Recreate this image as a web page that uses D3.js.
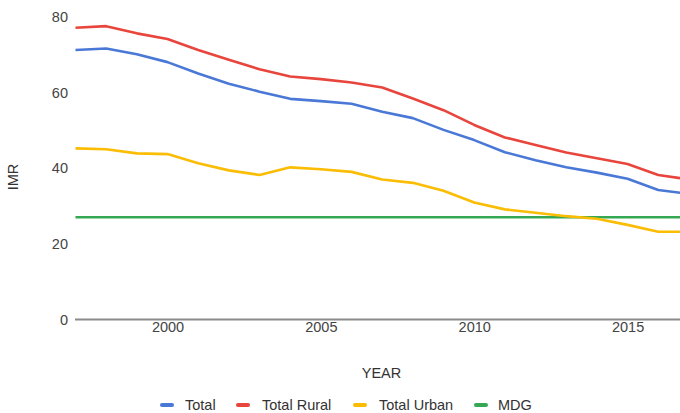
<!DOCTYPE html>
<html>
<head>
<meta charset="utf-8">
<script src="https://cdn.jsdelivr.net/npm/d3@7"></script>
<style>
  html, body { margin: 0; padding: 0; background: #fff; }
  svg { display: block; }
  text { font-family: "Liberation Sans", Arial, sans-serif; }
</style>
</head>
<body>
<svg id="chart" width="680" height="413"></svg>
<script>
// Infant mortality rate by year
const years = [1997, 1998, 1999, 2000, 2001, 2002, 2003, 2004, 2005, 2006, 2007,
               2008, 2009, 2010, 2011, 2012, 2013, 2014, 2015, 2016, 2017];
const total = [71.2, 71.6, 70.1, 68.0, 65.0, 62.3, 60.2, 58.3, 57.7, 57.0, 54.9,
               53.2, 50.1, 47.4, 44.2, 42.1, 40.2, 38.8, 37.2, 34.2, 33.2];
const totalRural = [77.1, 77.5, 75.6, 74.1, 71.2, 68.6, 66.1, 64.2, 63.5, 62.6, 61.3,
                    58.4, 55.3, 51.4, 48.1, 46.1, 44.1, 42.6, 41.1, 38.2, 37.0];
const totalUrban = [45.2, 45.0, 43.9, 43.7, 41.3, 39.4, 38.2, 40.2, 39.7, 39.0, 37.0,
                    36.1, 34.0, 30.9, 29.1, 28.2, 27.3, 26.6, 25.0, 23.2, 23.2];
const mdg = [27, 27, 27, 27, 27, 27, 27, 27, 27, 27, 27,
             27, 27, 27, 27, 27, 27, 27, 27, 27, 27];
const yTicks = [0, 20, 40, 60, 80];
const xTicks = [2000, 2005, 2010, 2015];

const seriesNames = ["Total", "Total Rural", "Total Urban", "MDG"];
const seriesValues = [total, totalRural, totalUrban, mdg];
const colors = ["#4a78d6", "#e8453c", "#fbbc04", "#34a853"];
const drawOrder = [3, 2, 0, 1];

const svg = d3.select("#chart");

const x = d3.scaleLinear().domain([1997, 2017]).range([75.5, 688.9]);
const y = d3.scaleLinear().domain([0, 80]).range([319.5, 16.7]);

// y-axis labels
const yAxis = d3.axisLeft(y).tickValues(yTicks).tickSize(0).tickPadding(0).tickFormat(d3.format("d"));
const gy = svg.append("g").attr("transform", "translate(68,0)").call(yAxis);
gy.select(".domain").remove();
gy.selectAll("text")
  .attr("fill", "#444")
  .style("font-size", "14.5px")
  .style("font-family", "'Liberation Sans', Arial, sans-serif");

// x-axis labels
const xAxis = d3.axisBottom(x).tickValues(xTicks).tickSize(0).tickPadding(0).tickFormat(d3.format("d"));
const gx = svg.append("g").attr("transform", "translate(0,322)").call(xAxis);
gx.select(".domain").remove();
gx.selectAll("text")
  .attr("fill", "#444")
  .attr("dy", "0.71em")
  .style("font-size", "14.5px")
  .style("font-family", "'Liberation Sans', Arial, sans-serif");

// baseline
svg.append("line")
  .attr("x1", 75).attr("x2", 680)
  .attr("y1", y(0)).attr("y2", y(0))
  .attr("stroke", "#8a8a8a").attr("stroke-width", 2);

// series lines
const line = d3.line()
  .x((d, i) => x(years[i]))
  .y(d => y(d));

drawOrder.forEach(k => {
  svg.append("path")
    .datum(seriesValues[k])
    .attr("d", line)
    .attr("fill", "none")
    .attr("stroke", colors[k])
    .attr("stroke-width", 2.6)
    .attr("stroke-linejoin", "round")
    .attr("stroke-linecap", "butt");
});

// axis titles
svg.append("text")
  .attr("transform", "translate(18,177) rotate(-90)")
  .attr("text-anchor", "middle")
  .attr("fill", "#333")
  .style("font-size", "14.5px")
  .text("IMR");

svg.append("text")
  .attr("x", 381.5).attr("y", 377.5)
  .attr("text-anchor", "middle")
  .attr("fill", "#333")
  .style("font-size", "14.5px")
  .text("YEAR");

// legend
const legendX = [160, 236, 353, 474];
const legend = svg.append("g");
seriesNames.forEach((name, i) => {
  const g = legend.append("g").attr("transform", `translate(${legendX[i]},405)`);
  g.append("rect")
    .attr("x", 0).attr("y", -2).attr("width", 14).attr("height", 4).attr("rx", 2)
    .attr("fill", colors[i]);
  g.append("text")
    .attr("x", i === 0 ? 25 : (i === 3 ? 24 : 26)).attr("y", 5.2)
    .attr("fill", "#333")
    .style("font-size", "14.5px")
    .text(name);
});
</script>
</body>
</html>
